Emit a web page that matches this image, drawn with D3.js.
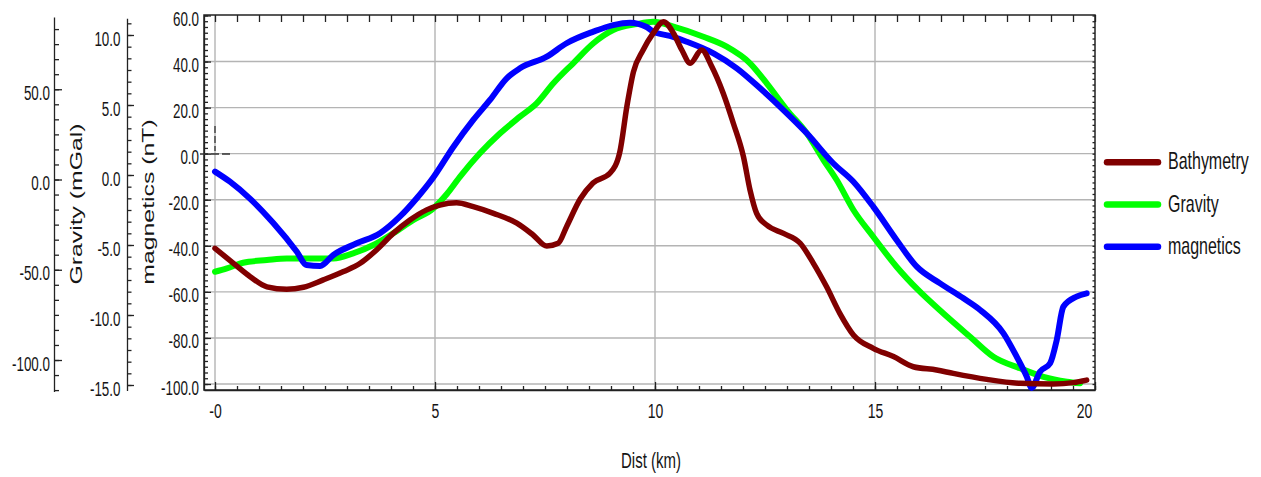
<!DOCTYPE html>
<html>
<head>
<meta charset="utf-8">
<script src="https://cdn.jsdelivr.net/npm/d3@7"></script>
<style>
body { margin: 0; background: #fff; }
svg { font-family: 'Liberation Sans', Arial, sans-serif; }
svg text { fill: #151515; }
.grid line { stroke: #b4b4b4; stroke-width: 1.4; }
.ax path, .ax line { stroke: #222; stroke-width: 1.3; }
</style>
</head>
<body>
<svg width="1261" height="477"></svg>
<script>
// values (km along profile, value in each axis' units)
var bathyKm  = [0, 0.42, 0.80, 1.18, 1.63, 2.01, 2.46, 2.92, 3.30, 3.67, 4.05, 4.43, 4.81, 5.11, 5.49, 5.87, 6.33, 6.86, 7.23, 7.54, 7.80, 7.99, 8.30, 8.59, 8.98, 9.20, 9.36, 9.51, 9.73, 9.96, 10.19, 10.42, 10.61, 10.80, 11.06, 11.29, 11.55, 11.78, 12.01, 12.16, 12.31, 12.54, 12.92, 13.30, 13.60, 13.90, 14.20, 14.51, 14.96, 15.42, 15.87, 16.40, 16.78, 17.54, 18.30, 19.05, 19.51, 19.81];
var bathyVal = [-41.1, -47.6, -53.4, -57.8, -58.9, -58.0, -54.8, -51.2, -47.6, -41.8, -34.6, -28.8, -24.4, -22.3, -21.3, -23.0, -25.9, -30.2, -35.3, -40.1, -38.9, -31.7, -19.7, -12.7, -8.4, 0.7, 20.4, 35.5, 45.0, 52.3, 57.3, 52.3, 45.0, 39.3, 45.0, 37.8, 26.2, 13.2, -1.3, -15.8, -25.9, -31.0, -34.6, -38.9, -47.6, -57.8, -69.3, -78.7, -84.5, -88.1, -92.5, -93.9, -95.4, -98.0, -99.7, -100.0, -99.4, -98.3];

var gravKm  = [0, 0.27, 0.64, 1.18, 1.63, 2.16, 2.69, 3.14, 3.60, 4.05, 4.51, 4.96, 5.27, 5.57, 6.02, 6.48, 6.93, 7.31, 7.69, 8.14, 8.60, 9.05, 9.58, 9.96, 10.42, 11.10, 11.63, 12.16, 12.54, 13.00, 13.45, 13.83, 14.13, 14.51, 14.96, 15.49, 15.98, 16.55, 17.16, 17.69, 18.30, 18.83, 19.36, 19.66];
var gravVal = [-51.1, -49.2, -46.1, -44.6, -43.7, -43.7, -43.7, -40.9, -36.3, -29.8, -22.4, -16.0, -8.0, 1.6, 14.5, 25.6, 34.8, 42.2, 53.3, 64.4, 75.5, 82.8, 86.1, 87.4, 84.7, 79.1, 73.6, 64.4, 53.3, 38.5, 25.6, 10.8, -0.3, -16.9, -31.7, -48.3, -61.2, -74.1, -87.1, -98.2, -104.6, -109.3, -112.0, -112.9];

var magKm  = [0, 0.34, 0.80, 1.33, 1.86, 2.08, 2.39, 2.69, 3.22, 3.75, 4.20, 4.58, 4.96, 5.42, 5.87, 6.25, 6.63, 6.93, 7.54, 7.99, 8.60, 9.05, 9.43, 9.81, 9.96, 10.34, 10.72, 11.33, 11.86, 12.39, 12.92, 13.45, 14.05, 14.51, 14.96, 15.49, 15.95, 16.48, 17.01, 17.39, 17.92, 18.22, 18.45, 18.56, 18.75, 18.98, 19.13, 19.28, 19.58, 19.81];
var magVal = [0.24, -0.48, -1.71, -3.45, -5.48, -6.43, -6.50, -5.71, -4.88, -4.16, -2.98, -1.68, -0.18, 2.02, 3.93, 5.36, 6.91, 7.62, 8.45, 9.41, 10.24, 10.71, 10.88, 10.57, 10.24, 9.93, 9.52, 8.69, 7.62, 6.19, 4.64, 2.98, 0.84, -0.48, -2.26, -4.64, -6.55, -7.74, -8.81, -9.64, -11.31, -12.98, -14.41, -15.21, -14.05, -13.45, -11.79, -9.41, -8.69, -8.45];

var seriesNames  = ["Bathymetry", "Gravity", "magnetics"];
var seriesColors = ["#800000", "#00ff00", "#0000ff"];

var xMajor = [0, 5, 10, 15, 20];
var xTickLabels = ["-0", "5", "10", "15", "20"];
var bathyMajor = [-100, -80, -60, -40, -20, 0, 20, 40, 60];
var gravMajor = [-100, -50, 0, 50];
var magMajor = [-15, -10, -5, 0, 5, 10];

var STRETCH = 1.5;   // the screenshot text is tall and narrow

var svg = d3.select("svg");

var x = d3.scaleLinear().domain([-0.25, 20]).range([204, 1095]);
var yBathy = d3.scaleLinear().domain([-102.6, 60.2]).range([390, 15]);
var yGrav = d3.scaleLinear().domain([-117.5, 90]).range([391.6, 17.05]);
var yMag = d3.scaleLinear().domain([-15.4, 11.2]).range([390.6, 18.2]);

function inDomain(scale) {
  var d = scale.domain();
  return function (v) { return v >= Math.min(d[0], d[1]) - 1e-6 && v <= Math.max(d[0], d[1]) + 1e-6; };
}

// grid
var grid = svg.append("g").attr("class", "grid");
grid.selectAll("line.v").data(xMajor.slice(0, 4)).enter().append("line")
  .attr("x1", function (d) { return x(d); }).attr("x2", function (d) { return x(d); })
  .attr("y1", 15).attr("y2", 390);
grid.selectAll("line.h").data(bathyMajor.slice(0, 8)).enter().append("line")
  .attr("x1", 204).attr("x2", 1095)
  .attr("y1", function (d) { return yBathy(d); }).attr("y2", function (d) { return yBathy(d); });

function styleLabels(g, size, yOff) {
  g.attr("font-size", size).attr("font-family", null);
  g.selectAll(".tick text")
    .attr("dy", null)
    .attr("y", yOff / STRETCH)
    .attr("transform", "scale(1," + STRETCH + ")");
}

// vertical axis with major + minor ticks, ticks pointing right, labels on left
function leftAxis(scale, xPos, major, minor, majLen, minLen, pad) {
  var g = svg.append("g").attr("class", "ax").attr("transform", "translate(" + xPos + ",0)");
  g.call(d3.axisLeft(scale).tickValues(major).tickSizeInner(-majLen).tickSizeOuter(0)
    .tickPadding(pad).tickFormat(function (d) { return d.toFixed(1); }));
  styleLabels(g, 13.4, 10);
  var m = svg.append("g").attr("class", "ax").attr("transform", "translate(" + xPos + ",0)");
  m.call(d3.axisLeft(scale).tickValues(minor.filter(inDomain(scale))).tickSizeInner(-minLen).tickSizeOuter(0).tickFormat(""));
  m.select(".domain").remove();
  return g;
}

leftAxis(yGrav, 54, gravMajor, d3.range(-20, 12).map(function (i) { return i * 50 / 6; }), 8, 5, 4);
leftAxis(yMag, 127, magMajor, d3.range(-19, 14).map(function (i) { return i * 5 / 6; }), 7, 4.5, 6.5);
leftAxis(yBathy, 204, bathyMajor, d3.range(-100, 60.1, 2.5), 7, 4, 5);

// right edge ticks
var r = svg.append("g").attr("class", "ax").attr("transform", "translate(1095,0)");
r.call(d3.axisLeft(yBathy).tickValues(d3.range(-100, 60.1, 2.5)).tickSize(2.5).tickFormat(""));
r.select(".domain").remove();

// top ticks
var t = svg.append("g").attr("class", "ax").attr("transform", "translate(0,15)");
t.call(d3.axisBottom(x).tickValues(d3.range(0, 20.01, 0.5)).tickSize(7).tickFormat(""));
t.select(".domain").remove();

// bottom axis
var b = svg.append("g").attr("class", "ax").attr("transform", "translate(0,390)");
b.call(d3.axisBottom(x).tickValues(xMajor).tickSizeInner(-8).tickSizeOuter(0)
  .tickFormat(function (d, i) { return xTickLabels[i]; }));
styleLabels(b, 14, 28.5);
b.selectAll(".tick text").filter(function (d) { return d === 20; }).attr("x", -11);
var bm = svg.append("g").attr("class", "ax").attr("transform", "translate(0,390)");
bm.call(d3.axisBottom(x).tickValues(d3.range(0, 20.01, 0.5)).tickSize(-4).tickFormat(""));
bm.select(".domain").remove();

// frame
svg.append("rect").attr("x", 204).attr("y", 15).attr("width", 891).attr("height", 375)
  .attr("fill", "none").attr("stroke", "#222").attr("stroke-width", 1.5);

// cursor left in the screenshot
var cur = svg.append("g").attr("stroke", "#333").attr("stroke-width", 1.3);
cur.append("line").attr("x1", 215).attr("x2", 215).attr("y1", 126).attr("y2", 151).attr("stroke-dasharray", "7,3");
cur.append("line").attr("x1", 200).attr("x2", 233).attr("y1", 154).attr("y2", 154).attr("stroke-dasharray", "8,3");

// series
function pts(km, val) { return km.map(function (k, i) { return [k, val[i]]; }); }
var plot = svg.append("g");
function drawSeries(data, yScale, color, w) {
  plot.append("path").datum(data)
    .attr("fill", "none").attr("stroke", color).attr("stroke-width", w)
    .attr("stroke-linejoin", "round").attr("stroke-linecap", "round")
    .attr("d", d3.line().curve(d3.curveMonotoneX)
      .x(function (d) { return x(d[0]); }).y(function (d) { return yScale(d[1]); }));
}
drawSeries(pts(gravKm, gravVal), yGrav, seriesColors[1], 6);
drawSeries(pts(magKm, magVal), yMag, seriesColors[2], 6);
drawSeries(pts(bathyKm, bathyVal), yBathy, seriesColors[0], 5.5);

// axis titles (rotated, stretched along the text)
svg.append("text").attr("transform", "translate(82,204) rotate(-90) scale(" + 1.55 + ",1)")
  .attr("text-anchor", "middle").attr("font-size", 16).text("Gravity (mGal)");
svg.append("text").attr("transform", "translate(154,202) rotate(-90) scale(" + 1.55 + ",1)")
  .attr("text-anchor", "middle").attr("font-size", 16).text("magnetics (nT)");
svg.append("text").attr("transform", "translate(651,468) scale(1," + STRETCH + ")")
  .attr("text-anchor", "middle").attr("font-size", 15).text("Dist (km)");

// legend
var leg = svg.append("g").selectAll("g").data(seriesNames).enter().append("g")
  .attr("transform", function (d, i) { return "translate(0," + (162.3 + i * 42.2) + ")"; });
leg.append("line").attr("x1", 1107).attr("x2", 1158)
  .attr("stroke", function (d, i) { return seriesColors[i]; })
  .attr("stroke-width", 6.5).attr("stroke-linecap", "round");
leg.append("text").attr("transform", "translate(1168,7) scale(1," + STRETCH + ")")
  .attr("font-size", 16).text(function (d) { return d; });
</script>
</body>
</html>
